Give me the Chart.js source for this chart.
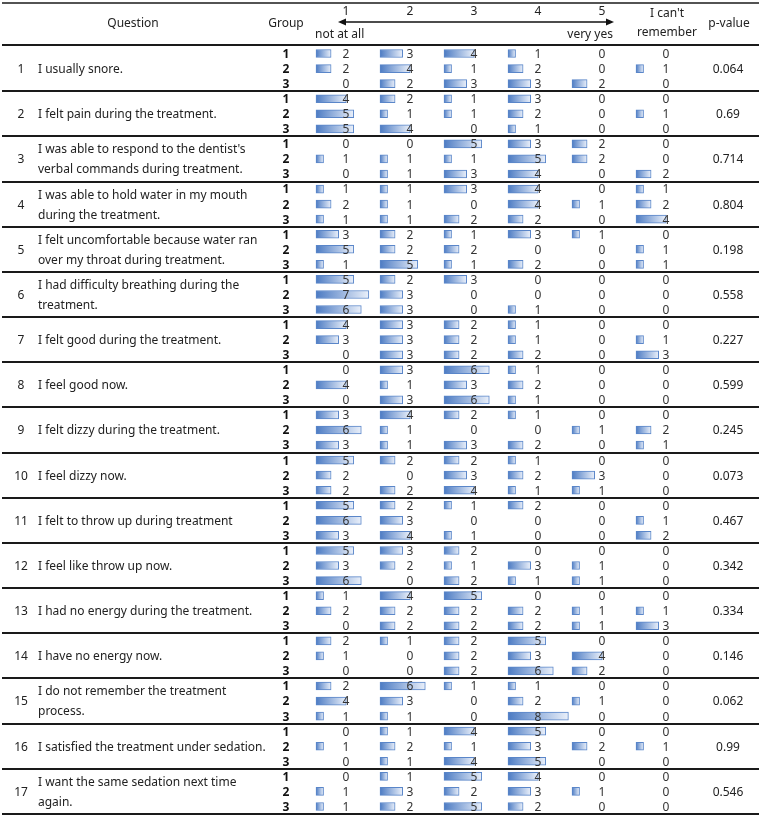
<!DOCTYPE html>
<html><head><meta charset="utf-8">
<script src="https://cdn.jsdelivr.net/npm/chart.js@4.4.1/dist/chart.umd.min.js"></script>
<style>html,body{margin:0;padding:0;background:#fff;}#wrap{width:761px;height:817px;}</style>
</head><body><div id="wrap"><canvas id="c" width="761" height="817"></canvas></div>
<script>
// ---------------- DATA ----------------
const questions = [
  "I usually snore.",
  "I felt pain during the treatment.",
  "I was able to respond to the dentist's\nverbal commands during treatment.",
  "I was able to hold water in my mouth\nduring the treatment.",
  "I felt uncomfortable because water ran\nover my throat during treatment.",
  "I had difficulty breathing during the\ntreatment.",
  "I felt good during the treatment.",
  "I feel good now.",
  "I felt dizzy during the treatment.",
  "I feel dizzy now.",
  "I felt to throw up during treatment",
  "I feel like throw up now.",
  "I had no energy during the treatment.",
  "I have no energy now.",
  "I do not remember the treatment\nprocess.",
  "I satisfied the treatment under sedation.",
  "I want the same sedation next time\nagain."
];
const groups = ["1", "2", "3"];
const scaleTicks = ["1", "2", "3", "4", "5"];
const scaleEnds = ["not at all", "very yes"];
const cantRemember = ["I can't", "remember"];
const pValues = ["0.064","0.69","0.714","0.804","0.198","0.558","0.227","0.599","0.245","0.073","0.467","0.342","0.334","0.146","0.062","0.99","0.546"];

// counts per answer column, ordered Q1G1,Q1G2,Q1G3,Q2G1,...
const ans1 = [2,2,0, 4,5,5, 0,1,0, 1,2,1, 3,5,1, 5,7,6, 4,3,0, 0,4,0, 3,6,3, 5,2,2, 5,6,3, 5,3,6, 1,2,0, 2,1,0, 2,4,1, 0,1,0, 0,1,1];
const ans2 = [3,4,2, 2,1,4, 0,1,1, 1,1,1, 2,2,5, 2,3,3, 3,3,3, 3,1,3, 4,1,1, 2,0,2, 2,3,4, 3,2,0, 4,2,2, 1,0,0, 6,3,1, 1,2,1, 1,3,2];
const ans3 = [4,1,3, 1,1,0, 5,1,3, 3,0,2, 1,2,1, 3,0,0, 2,2,2, 6,3,6, 2,0,3, 2,3,4, 1,0,1, 2,1,2, 5,2,2, 2,2,2, 1,0,0, 4,1,4, 5,2,5];
const ans4 = [1,2,3, 3,2,1, 3,5,4, 4,4,2, 3,0,2, 0,0,1, 1,1,2, 1,2,1, 1,0,2, 1,2,1, 2,0,0, 0,3,1, 0,2,2, 5,3,6, 1,2,8, 5,3,5, 4,3,2];
const ans5 = [0,0,2, 0,0,0, 2,2,0, 0,1,0, 1,0,0, 0,0,0, 0,0,0, 0,0,0, 0,1,0, 0,3,1, 0,0,0, 0,1,1, 0,1,1, 0,4,2, 0,1,0, 0,2,0, 0,1,0];
const ans6 = [0,1,0, 0,1,0, 0,0,2, 1,2,4, 0,1,1, 0,0,0, 0,1,3, 0,0,0, 0,2,1, 0,0,0, 0,1,2, 0,0,0, 0,1,3, 0,0,0, 0,0,0, 0,1,0, 0,0,0];

// ---------------- LAYOUT ----------------
const UNIT_PX = 7.55;     // pixels per count
const COL_PX = 64;        // column pitch
const FIRST_PX = 16;      // first bar offset inside chart area
const AREA_W = 400;
function colStart(c){ return (FIRST_PX + COL_PX*c) / UNIT_PX; }

const answerCols = [ans1, ans2, ans3, ans4, ans5, ans6];
const rowLabels = [];
questions.forEach((q,i)=>groups.forEach(g=>rowLabels.push("Q"+(i+1)+"-G"+g)));

function barFill(ctx){
  const chart = ctx.chart;
  if (ctx.type !== 'data' || !chart.chartArea || !ctx.raw) return '#7ea3d9';
  const xs = chart.scales.x;
  const x0 = xs.getPixelForValue(ctx.raw[0]);
  const x1 = xs.getPixelForValue(ctx.raw[1]);
  const g = chart.ctx.createLinearGradient(x0, 0, x1, 0);
  g.addColorStop(0, '#4c7bc3');
  g.addColorStop(1, '#eaf0fa');
  return g;
}

const datasets = answerCols.map((arr, c) => ({
  label: c < 5 ? scaleTicks[c] : cantRemember.join(' '),
  data: arr.map(v => v > 0 ? [colStart(c), colStart(c) + v] : null),
  counts: arr,
  backgroundColor: barFill,
  borderColor: '#5a86c9',
  borderWidth: 1,
  borderSkipped: false,
  barThickness: 8,
  grouped: false
}));

const FONT = '"Noto Sans", "DejaVu Sans", sans-serif';

const tablePlugin = {
  id: 'tablePlugin',
  afterDraw(chart){
    const ctx = chart.ctx, xs = chart.scales.x, ys = chart.scales.y, ca = chart.chartArea;
    const colPx = c => xs.getPixelForValue(colStart(c));
    ctx.save();
    ctx.textBaseline = 'middle';
    // counts
    ctx.font = '12px ' + FONT;
    ctx.fillStyle = '#333';
    ctx.textAlign = 'center';
    chart.data.datasets.forEach((ds, c) => {
      ds.counts.forEach((v, i) => {
        ctx.fillText(String(v), colPx(c) + 30, ys.getPixelForValue(i) + 1);
      });
    });
    // group labels
    ctx.fillStyle = '#111';
    ctx.font = 'bold 12px ' + FONT;
    rowLabels.forEach((l, i) => {
      ctx.fillText(groups[i % 3], 286, ys.getPixelForValue(i) + 1);
    });
    // questions, p-values
    ctx.font = '12px ' + FONT;
    ctx.fillStyle = '#222';
    questions.forEach((q, k) => {
      const yc = ys.getPixelForValue(k*3 + 1) + 1;
      ctx.textAlign = 'center';
      ctx.fillText(String(k+1), 21, yc);
      ctx.fillText(pValues[k], 728, yc);
      ctx.textAlign = 'left';
      const lines = q.split('\n');
      if (lines.length === 1) ctx.fillText(lines[0], 38, yc);
      else { ctx.fillText(lines[0], 38, yc - 10); ctx.fillText(lines[1], 38, yc + 10); }
    });
    // header
    ctx.textAlign = 'center';
    ctx.fillText('Question', 133, 24);
    ctx.fillText('Group', 286, 24);
    ctx.fillText('p-value', 729, 24);
    scaleTicks.forEach((t, c) => ctx.fillText(t, colPx(c) + 30, 12));
    ctx.fillText(cantRemember[0], colPx(5) + 31, 14);
    ctx.fillText(cantRemember[1], colPx(5) + 31, 33);
    ctx.textAlign = 'left';
    ctx.fillText(scaleEnds[0], 315, 35);
    ctx.textAlign = 'right';
    ctx.fillText(scaleEnds[1], 613, 35);
    // arrow
    const ax0 = colPx(0) + 22, ax1 = colPx(4) + 42, ay = 22;
    ctx.strokeStyle = '#111'; ctx.fillStyle = '#111'; ctx.lineWidth = 1.3;
    ctx.beginPath(); ctx.moveTo(ax0 + 4, ay); ctx.lineTo(ax1 - 4, ay); ctx.stroke();
    ctx.beginPath(); ctx.moveTo(ax0, ay); ctx.lineTo(ax0 + 8, ay - 3.5); ctx.lineTo(ax0 + 8, ay + 3.5); ctx.closePath(); ctx.fill();
    ctx.beginPath(); ctx.moveTo(ax1, ay); ctx.lineTo(ax1 - 8, ay - 3.5); ctx.lineTo(ax1 - 8, ay + 3.5); ctx.closePath(); ctx.fill();
    // rules
    const hline = (y, w) => { ctx.lineWidth = w; ctx.beginPath(); ctx.moveTo(2, y); ctx.lineTo(759, y); ctx.stroke(); };
    ctx.strokeStyle = '#1a1a1a';
    hline(3, 1.5);
    hline(ca.top - 1, 2);
    for (let k = 1; k < questions.length; k++) {
      const y = (ys.getPixelForValue(k*3 - 1) + ys.getPixelForValue(k*3)) / 2;
      hline(Math.round(y), 2);
    }
    hline(ca.bottom, 2);
    ctx.restore();
  }
};

new Chart(document.getElementById('c'), {
  type: 'bar',
  data: { labels: rowLabels, datasets },
  options: {
    indexAxis: 'y',
    responsive: false,
    animation: false,
    layout: { padding: { left: 300, right: 761 - 300 - AREA_W, top: 46, bottom: 3 } },
    scales: {
      x: { type: 'linear', min: 0, max: AREA_W / UNIT_PX, display: false },
      y: { type: 'category', display: false, offset: true }
    },
    plugins: { legend: { display: false }, tooltip: { enabled: false } }
  },
  plugins: [tablePlugin]
});
</script>
</body></html>
